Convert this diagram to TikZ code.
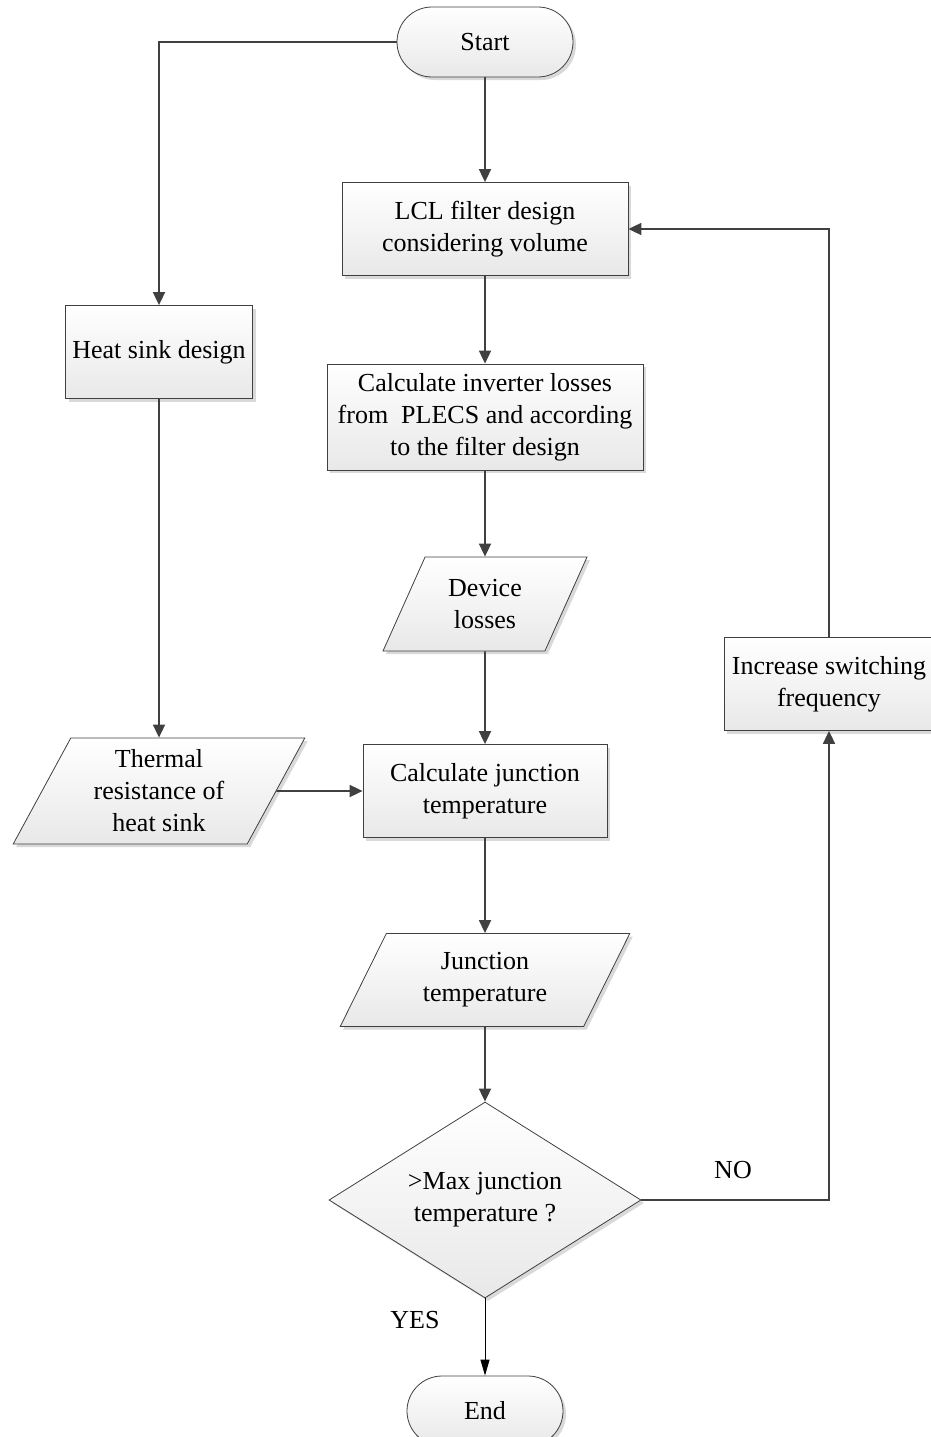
\documentclass[tikz,border=0pt]{standalone}
\usepackage{fontspec}
\setmainfont{Liberation Serif}
\usetikzlibrary{shapes.geometric,shadows,arrows.meta}
\definecolor{ln}{HTML}{404040}
\begin{document}
\begin{tikzpicture}[x=1pt,y=-1pt,
  base/.style={draw=ln, line width=0.8pt, top color=white, bottom color=black!9,
    drop shadow={shadow xshift=3pt, shadow yshift=-3pt, fill=black!25, opacity=0.6},
    font=\fontsize{26}{32}\selectfont, align=center, inner sep=2pt},
  term/.style={base, rectangle, rounded corners=35pt, minimum width=176pt, minimum height=70pt},
  proc/.style={base, rectangle},
  io/.style={base, trapezium, trapezium left angle=63, trapezium right angle=117, trapezium stretches=true},
  dec/.style={base, diamond, aspect=1.59, inner sep=0pt},
  flow/.style={draw=ln, line width=1.8pt, -{Triangle[length=13pt,width=12pt]}},
  thinflow/.style={draw=black, line width=1pt, -{Triangle[length=16pt,width=9pt]}},
  lab/.style={font=\fontsize{26}{32}\selectfont}]
\useasboundingbox (0,0) rectangle (930,1437);

\node[term] (start) at (485,42) {Start};
\node[proc, minimum width=286pt, minimum height=93pt] (lcl) at (485,229) {LCL filter design\\considering volume};
\node[proc, minimum width=187pt, minimum height=93pt] (heat) at (159,352) {Heat sink design};
\node[proc, minimum width=316pt, minimum height=106pt] (inv) at (485,417) {Calculate inverter losses\\from\ \ PLECS and according\\to the filter design};
\node[io, minimum width=204pt, minimum height=94pt] (dev) at (485,604) {Device\\losses};
\node[io, minimum width=292pt, minimum height=106pt] (therm) at (159,791) {Thermal\\resistance of\\heat sink};
\node[proc, minimum width=244pt, minimum height=93pt] (cjt) at (485,791) {Calculate junction\\temperature};
\node[io, minimum width=290pt, minimum height=93pt] (jt) at (485,980) {Junction\\temperature};
\node[dec, minimum width=312pt, minimum height=196pt] (dia) at (485,1200) {>Max junction\\temperature ?};
\node[term, minimum width=156pt] (end) at (485,1411) {End};
\node[proc, minimum width=210pt, minimum height=93pt] (isf) at (829,684) {Increase switching\\frequency};
\node[lab] (no) at (733,1170) {NO};
\node[lab] (yes) at (415,1320) {YES};

\draw[flow] (start.west) -| (heat.north);
\draw[flow] (start.south) -- (lcl.north);
\draw[flow] (lcl.south) -- (inv.north);
\draw[flow] (inv.south) -- (dev.north);
\draw[flow] (dev.south) -- (cjt.north);
\draw[flow] (heat.south) -- (therm.north);
\draw[flow] (therm.east) -- (cjt.west);
\draw[flow] (cjt.south) -- (jt.north);
\draw[flow] (jt.south) -- (dia.north);
\draw[thinflow] (dia.south) -- (end.north);
\draw[flow] (dia.east) -| (isf.south);
\draw[flow] (isf.north) |- (lcl.east);
\end{tikzpicture}
\end{document}
